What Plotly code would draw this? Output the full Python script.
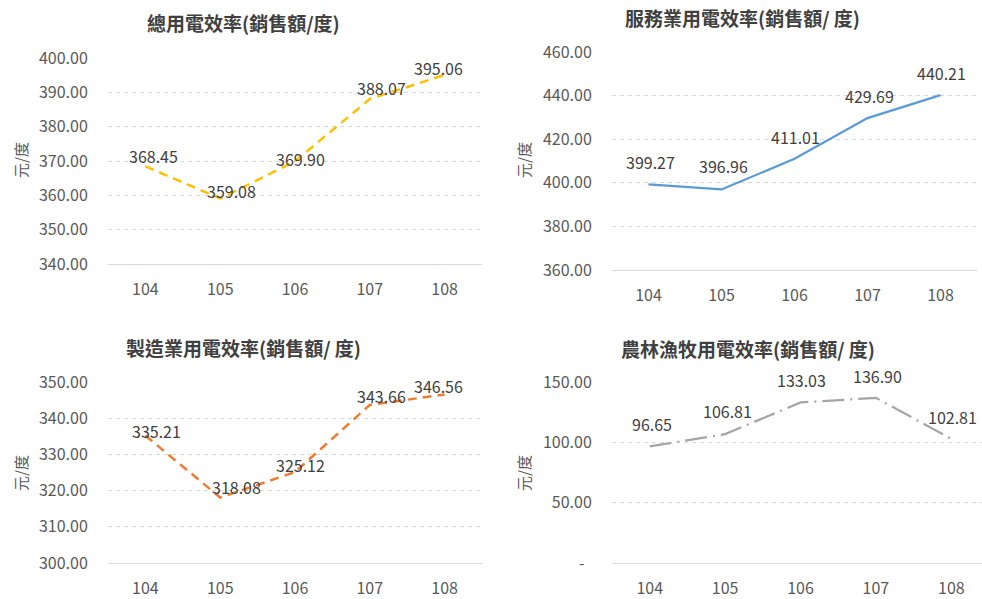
import plotly.graph_objects as go

years = ["104", "105", "106", "107", "108"]
total_eff = [368.45, 359.08, 369.90, 388.07, 395.06]
service_eff = [399.27, 396.96, 411.01, 429.69, 440.21]
manuf_eff = [335.21, 318.08, 325.12, 343.66, 346.56]
agri_eff = [96.65, 106.81, 133.03, 136.90, 102.81]

titles = ["總用電效率(銷售額/度)", "服務業用電效率(銷售額/ 度)",
          "製造業用電效率(銷售額/ 度)", "農林漁牧用電效率(銷售額/ 度)"]
unit_label = "元/度"

total_ticks = [340, 350, 360, 370, 380, 390, 400]
service_ticks = [360, 380, 400, 420, 440, 460]
manuf_ticks = [300, 310, 320, 330, 340, 350]
agri_ticks = [0, 50, 100, 150]
agri_ticktext = ["-\u00a0\u00a0", "50.00", "100.00", "150.00"]

# label offsets (px) for data labels
total_dx = [8, 11, 5, 12, -6]
total_dy = [10, 7, 2, 11, 7]
manuf_dx = [11, 16, 5, 12, -6]
manuf_dy = [5, 11, 7, 9, 8]
up_dx = [2, 2, 1, 2, 1]
up_dy = [22, 23, 22, 22, 22]

W, H = 982, 599
FONT = "Noto Sans CJK TC, Noto Sans, sans-serif"
TICK_COLOR = "#595959"
LABEL_COLOR = "#404040"
GRID = "#D9D9D9"

fig = go.Figure()

panels = [
    dict(vals=total_eff, color="#FFC000", dash="9px,6px", width=2.5,
         xd=[108 / W, 482 / W], yd=[1 - 264 / H, 1 - 58 / H], rng=[340, 400],
         ticks=total_ticks, ticktext=[f"{t:.2f}" for t in total_ticks],
         dx=total_dx, dy=total_dy, xr=[-0.5, 4.5],
         title_xy=(243, 23), unit_xy=(20, 160)),
    dict(vals=service_eff, color="#5B9BD5", dash="solid", width=2.25,
         xd=[612 / W, 977 / W], yd=[1 - 270 / H, 1 - 52 / H], rng=[360, 460],
         ticks=service_ticks, ticktext=[f"{t:.2f}" for t in service_ticks],
         dx=up_dx, dy=up_dy, xr=[-0.5, 4.5],
         title_xy=(742, 17), unit_xy=(523, 160)),
    dict(vals=manuf_eff, color="#ED7D31", dash="9px,6px", width=2.5,
         xd=[108 / W, 482 / W], yd=[1 - 563 / H, 1 - 382 / H], rng=[300, 350],
         ticks=manuf_ticks, ticktext=[f"{t:.2f}" for t in manuf_ticks],
         dx=manuf_dx, dy=manuf_dy, xr=[-0.5, 4.5],
         title_xy=(243, 347), unit_xy=(20, 473)),
    dict(vals=agri_eff, color="#A5A5A5", dash="22px,6px,2px,6px", width=2.25,
         xd=[612 / W, 1.0], yd=[1 - 563 / H, 1 - 382 / H], rng=[0, 150],
         ticks=agri_ticks, ticktext=agri_ticktext, dx=up_dx, dy=up_dy,
         xr=[-0.5, 4.407],
         title_xy=(748, 348), unit_xy=(523, 473)),
]

layout = {}
annotations = []
for i, p in enumerate(panels):
    n = "" if i == 0 else str(i + 1)
    xa, ya = "x" + n, "y" + n
    fig.add_trace(go.Scatter(
        x=list(range(len(years))), y=p["vals"], mode="lines",
        line=dict(color=p["color"], width=p["width"], dash=p["dash"]),
        xaxis=xa, yaxis=ya, showlegend=False, hoverinfo="skip"))
    layout["xaxis" + n] = dict(
        domain=p["xd"], anchor=ya, range=p["xr"], automargin=False,
        tickvals=list(range(len(years))), ticktext=years,
        showgrid=False, zeroline=False, showline=True, linecolor=GRID, linewidth=1,
        ticks="outside", ticklen=11, tickcolor="rgba(0,0,0,0)",
        tickfont=dict(family=FONT, size=16, color=TICK_COLOR), fixedrange=True)
    layout["yaxis" + n] = dict(
        domain=p["yd"], anchor=xa, range=p["rng"], automargin=False,
        tickvals=p["ticks"], ticktext=p["ticktext"],
        showgrid=True, gridcolor=GRID, griddash="4px,4px", gridwidth=1,
        zeroline=False, showline=False,
        ticks="outside", ticklen=16, tickcolor="rgba(0,0,0,0)",
        tickfont=dict(family=FONT, size=16, color=TICK_COLOR), fixedrange=True)
    for j, v in enumerate(p["vals"]):
        annotations.append(dict(
            x=j, y=v, xref=xa, yref=ya, text=f"{v:.2f}", showarrow=False,
            xshift=p["dx"][j], yshift=p["dy"][j],
            font=dict(family=FONT, size=16, color=LABEL_COLOR)))
    tx, ty = p["title_xy"]
    annotations.append(dict(
        x=tx / W, y=1 - ty / H, xref="paper", yref="paper", text="<b>" + titles[i] + "</b>",
        showarrow=False, xanchor="center", yanchor="middle",
        font=dict(family=FONT, size=19, color="#404040")))
    ux, uy = p["unit_xy"]
    annotations.append(dict(
        x=ux / W, y=1 - uy / H, xref="paper", yref="paper", text=unit_label,
        showarrow=False, textangle=-90, xanchor="center", yanchor="middle",
        font=dict(family=FONT, size=15, color=TICK_COLOR)))

fig.update_layout(
    template="none",
    width=W, height=H, margin=dict(l=0, r=0, t=0, b=0, pad=0),
    paper_bgcolor="white", plot_bgcolor="white",
    annotations=annotations, **layout)

fig.write_html("out.html", config={"displayModeBar": False},
               post_script="document.body.style.margin='0';document.body.style.overflow='hidden';")
